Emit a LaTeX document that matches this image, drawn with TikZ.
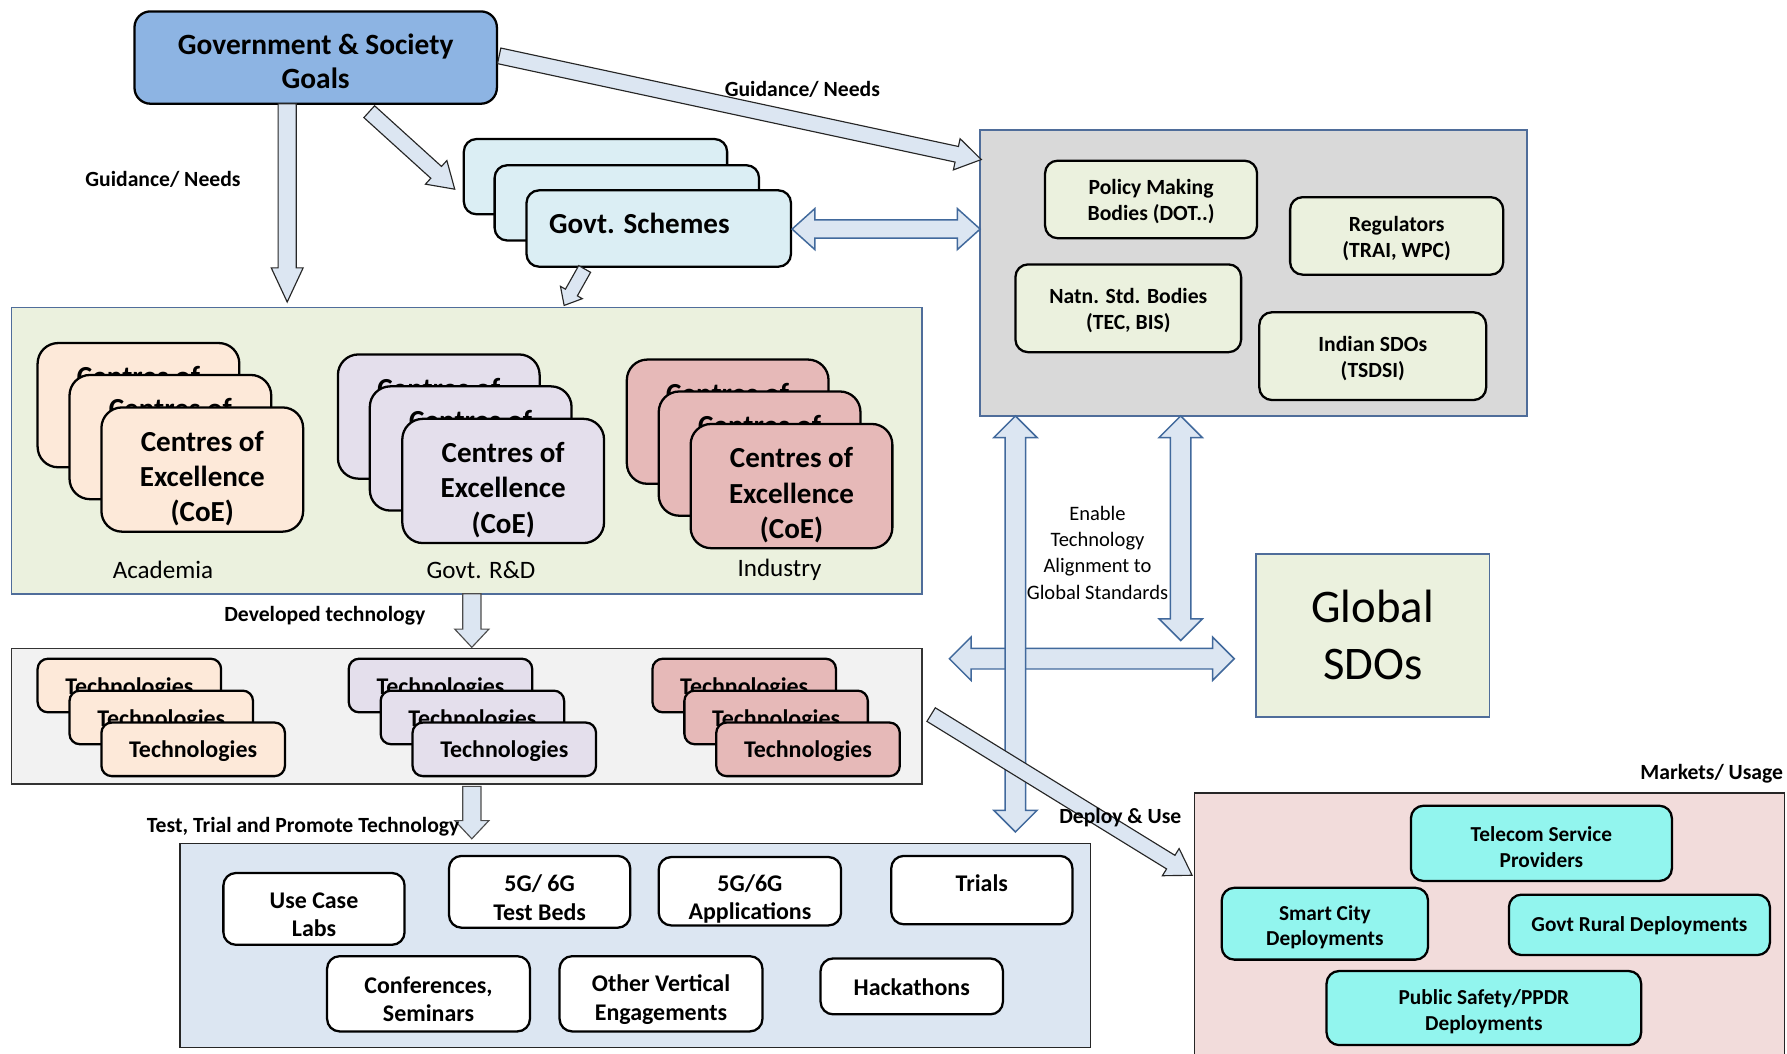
\documentclass[tikz,border=0pt]{standalone}
\usepackage{fontspec}
\setmainfont{Carlito}
\usetikzlibrary{calc}

\definecolor{govblue}{RGB}{141,180,227}
\definecolor{schemefill}{RGB}{219,238,244}
\definecolor{greenfill}{RGB}{235,241,222}
\definecolor{acadfill}{RGB}{253,233,217}
\definecolor{rdfill}{RGB}{228,223,236}
\definecolor{indfill}{RGB}{230,185,184}
\definecolor{greyfill}{RGB}{217,217,217}
\definecolor{techfill}{RGB}{242,242,242}
\definecolor{testfill}{RGB}{220,230,242}
\definecolor{marketfill}{RGB}{242,220,219}
\definecolor{aquafill}{RGB}{146,245,238}
\definecolor{arrowfill}{RGB}{220,230,242}
\definecolor{steel}{RGB}{79,109,154}
\definecolor{arrowblue}{RGB}{65,105,156}

% single-headed block arrow: style, from, to, shaft half width, head half width, head length
\newcommand{\blkarrow}[6]{%
  \path ($(#3)!#6!(#2)$) coordinate (ah);
  \draw[#1] ($(#2)!#4!90:(#3)$) -- ($(ah)!#4!90:(#3)$) -- ($(ah)!#5!90:(#3)$) -- (#3)
    -- ($(ah)!#5!-90:(#3)$) -- ($(ah)!#4!-90:(#3)$) -- ($(#2)!#4!-90:(#3)$) -- cycle;
}
% double-headed block arrow, same arguments
\newcommand{\dblarrow}[6]{%
  \path ($(#2)!#6!(#3)$) coordinate (ha) ($(#3)!#6!(#2)$) coordinate (hb);
  \draw[#1] (#2) -- ($(ha)!#5!90:(#3)$) -- ($(ha)!#4!90:(#3)$) -- ($(hb)!#4!90:(#3)$)
    -- ($(hb)!#5!90:(#3)$) -- (#3) -- ($(hb)!#5!-90:(#3)$) -- ($(hb)!#4!-90:(#3)$)
    -- ($(ha)!#4!-90:(#3)$) -- ($(ha)!#5!-90:(#3)$) -- cycle;
}

\tikzset{
  rbox/.style={draw=black, line width=2pt, rounded corners=11pt, inner sep=0pt},
  coebox/.style={rbox, rounded corners=18pt, minimum width=177pt, minimum height=109pt},
  techbox/.style={rbox, rounded corners=9pt, minimum width=161pt, minimum height=47pt},
  txt/.style={align=center, inner sep=0pt, font=\bfseries\fontsize{19}{23}\selectfont},
  bigtxt/.style={txt, font=\bfseries\fontsize{25.5}{31}\selectfont},
  techtxt/.style={txt, font=\bfseries\fontsize{21}{25}\selectfont},
  testtxt/.style={txt, font=\bfseries\fontsize{21}{25}\selectfont},
  mkttxt/.style={txt, font=\bfseries\fontsize{18.7}{22.5}\selectfont},
  region/.style={line width=1.3pt},
  lbl/.style={font=\bfseries\fontsize{19}{22}\selectfont, inner sep=0pt},
  plainlbl/.style={font=\fontsize{22}{26}\selectfont, inner sep=0pt},
  arrblack/.style={fill=arrowfill, draw=black!85, line width=1pt},
  arrblue/.style={fill=arrowfill, draw=arrowblue, line width=1.3pt},
}

\begin{document}
\begin{tikzpicture}[x=1pt,y=-1pt]
\useasboundingbox (0,0) rectangle (1568,924);

% ---------- regions ----------
\draw[region, draw=steel, fill=greenfill] (10,270) rectangle (809,521);
\draw[region, draw=black!80, fill=techfill] (10,569) rectangle (809,688);
\draw[region, draw=black!85, fill=testfill] (158,740) rectangle (957,919);
\draw[region, draw=steel, fill=greyfill] (860,114) rectangle (1340,365);
\draw[region, draw=black!85, fill=marketfill] (1048,696) rectangle (1566,940);
\node[region, draw=steel, fill=greenfill, minimum width=205pt, minimum height=143pt,
  align=center, font=\fontsize{41}{50}\selectfont, inner sep=0pt] (global) at (1204.5,557.5) {Global\\SDOs};

% ---------- goals and schemes ----------
\node[rbox, fill=govblue, rounded corners=14pt, minimum width=318pt, minimum height=81pt] (gov) at (277,50.5) {};
\node[txt, font=\bfseries\fontsize{25.8}{30}\selectfont] (gov-t) at ([yshift=-3pt]gov.center) {Government \& Society\\Goals};

\node[rbox, fill=schemefill, minimum width=231pt, minimum height=66pt] (sch1) at (522.5,155) {};
\node[rbox, fill=schemefill, minimum width=232pt, minimum height=66pt] (sch2) at (550,178) {};
\node[rbox, fill=schemefill, minimum width=232pt, minimum height=67pt] (sch3) at (578,200.5) {};
\node[bigtxt] (sch3-t) at (561,196) {Govt. Schemes};

% ---------- policy bodies ----------
\node[rbox, fill=greenfill, minimum width=186pt, minimum height=68pt] (policy) at (1010,175) {};
\node[txt] (policy-t) at ([yshift=-2pt]policy.center) {Policy Making\\Bodies (DOT..)};
\node[rbox, fill=greenfill, minimum width=187pt, minimum height=68pt] (regul) at (1225.5,207) {};
\node[txt] (regul-t) at ([yshift=-2pt]regul.center) {Regulators\\(TRAI, WPC)};
\node[rbox, fill=greenfill, minimum width=198pt, minimum height=77pt] (natn) at (990,270.5) {};
\node[txt] (natn-t) at ([yshift=-2pt]natn.center) {Natn. Std. Bodies\\(TEC, BIS)};
\node[rbox, fill=greenfill, minimum width=199pt, minimum height=77pt] (isdo) at (1204.5,312.5) {};
\node[txt] (isdo-t) at ([yshift=-2pt]isdo.center) {Indian SDOs\\(TSDSI)};

% ---------- centres of excellence ----------
\foreach \n/\x/\y in {a1/121.5/355.5, a2/149.5/383.5, a3/177.5/412}{
  \node[coebox, fill=acadfill] (\n) at (\x,\y) {};
  \node[bigtxt] (\n-t) at ([yshift=-8pt]\n.center) {Centres of\\Excellence\\(CoE)};
}
\foreach \n/\x/\y in {r1/385/365.5, r2/413/393.5, r3/441.5/422}{
  \node[coebox, fill=rdfill] (\n) at (\x,\y) {};
  \node[bigtxt] (\n-t) at ([yshift=-8pt]\n.center) {Centres of\\Excellence\\(CoE)};
}
\foreach \n/\x/\y in {i1/638.5/370, i2/666.5/398, i3/694.5/426.5}{
  \node[coebox, fill=indfill] (\n) at (\x,\y) {};
  \node[bigtxt] (\n-t) at ([yshift=-8pt]\n.center) {Centres of\\Excellence\\(CoE)};
}
\node[plainlbl] (acad) at (143,500) {Academia};
\node[plainlbl] (govrd) at (422,500) {Govt. R\&D};
\node[plainlbl] (indus) at (684,500) {Industry};

% ---------- technologies ----------
\foreach \n/\x/\y/\c in {ta1/113.5/601.5/acadfill, ta2/141.5/629.5/acadfill, ta3/169.5/657.5/acadfill,
                         tr1/386.5/601.5/rdfill, tr2/414.5/629.5/rdfill, tr3/442.5/657.5/rdfill,
                         ti1/653/601.5/indfill, ti2/681/629.5/indfill, ti3/709/657.5/indfill}{
  \node[techbox, fill=\c] (\n) at (\x,\y) {};
  \node[techtxt] (\n-t) at ([yshift=-2pt]\n.center) {Technologies};
}

% ---------- test, trial and promote ----------
\begin{scope}[every node/.append style={}]
\node[rbox, fill=white, minimum width=159pt, minimum height=63pt] (usecase) at (275.5,797.5) {};
\node[testtxt] (usecase-t) at ([yshift=-5pt]usecase.center) {Use Case\\Labs};
\node[rbox, fill=white, minimum width=159pt, minimum height=63pt] (testbed) at (473.5,782.5) {};
\node[testtxt] (testbed-t) at ([yshift=-5pt]testbed.center) {5G/ 6G\\Test Beds};
\node[rbox, fill=white, minimum width=160pt, minimum height=60pt] (apps) at (658,782) {};
\node[testtxt] (apps-t) at ([yshift=-7pt]apps.center) {5G/6G\\Applications};
\node[rbox, fill=white, minimum width=159pt, minimum height=60pt] (trials) at (861.5,781) {};
\node[testtxt] (trials-t) at ([yshift=6pt]trials.center) {Trials};
\node[rbox, fill=white, minimum width=178pt, minimum height=66pt] (conf) at (376,872) {};
\node[testtxt] (conf-t) at ([yshift=-5pt]conf.center) {Conferences,\\Seminars};
\node[rbox, fill=white, minimum width=178pt, minimum height=66pt] (other) at (580,872) {};
\node[testtxt] (other-t) at ([yshift=-5pt]other.center) {Other Vertical\\Engagements};
\node[rbox, fill=white, minimum width=160pt, minimum height=49pt] (hack) at (800,865.5) {};
\node[testtxt] (hack-t) at ([yshift=-1pt]hack.center) {Hackathons};
\end{scope}

% ---------- markets ----------
\node[rbox, fill=aquafill, minimum width=229pt, minimum height=66pt] (telecom) at (1352.5,740) {};
\node[mkttxt] (telecom-t) at ([yshift=-3pt]telecom.center) {Telecom Service\\Providers};
\node[rbox, fill=aquafill, minimum width=181pt, minimum height=63pt] (smart) at (1162.5,810.5) {};
\node[mkttxt] (smart-t) at ([yshift=-3pt]smart.center) {Smart City\\Deployments};
\node[rbox, fill=aquafill, minimum width=229pt, minimum height=53pt] (rural) at (1438.5,811.5) {};
\node[mkttxt] (rural-t) at ([yshift=-1pt]rural.center) {Govt Rural Deployments};
\node[rbox, fill=aquafill, minimum width=276pt, minimum height=65pt] (public) at (1302,884.5) {};
\node[mkttxt] (public-t) at ([yshift=-3pt]public.center) {Public Safety/PPDR\\Deployments};

% ---------- arrow end points ----------
\coordinate (govdown) at (252,91);
\coordinate (coetop) at (252,265);
\coordinate (govdiag) at (324,98);
\coordinate (schtip) at (399,166);
\coordinate (govright) at (438,49);
\coordinate (greytip) at (861,140);
\coordinate (schbot) at (513,236);
\coordinate (coetop2) at (495,268);
\coordinate (schright) at (695,201);
\coordinate (greyleft) at (860,201);
\coordinate (coebot) at (414,521);
\coordinate (techtop) at (414,568);
\coordinate (techbot) at (414,690);
\coordinate (testtop) at (414,736);
\coordinate (vAtop) at (891,365);
\coordinate (vAbot) at (891,730);
\coordinate (vBtop) at (1036,365);
\coordinate (vBbot) at (1036,562);
\coordinate (hleft) at (833,578);
\coordinate (hright) at (1083,578);
\coordinate (deptail) at (817,627);
\coordinate (deptip) at (1046,768);

% ---------- block arrows ----------
\blkarrow{arrblack}{govdown}{coetop}{8pt}{14pt}{30pt}
\blkarrow{arrblack}{govdiag}{schtip}{7pt}{14pt}{22pt}
\blkarrow{arrblack}{govright}{greytip}{7pt}{14pt}{22pt}
\blkarrow{arrblack}{schbot}{coetop2}{6pt}{11pt}{13pt}
\dblarrow{arrblue}{schright}{greyleft}{8pt}{18pt}{20pt}
\blkarrow{arrblack, draw=black!70}{coebot}{techtop}{8pt}{15pt}{16pt}
\blkarrow{arrblack, draw=black!70}{techbot}{testtop}{8pt}{15pt}{16pt}
\dblarrow{arrblue}{hleft}{hright}{9pt}{19pt}{19pt}
\dblarrow{arrblue}{vBtop}{vBbot}{9pt}{19pt}{19pt}
\dblarrow{arrblue}{vAtop}{vAbot}{9pt}{19pt}{19pt}
\blkarrow{arrblack}{deptail}{deptip}{7pt}{14pt}{22pt}

% ---------- connector labels ----------
\node[lbl] (lguid1) at (143,157) {Guidance/ Needs};
\node[lbl] (lguid2) at (704,78) {Guidance/ Needs};
\node[lbl] (ldev) at (285,540) {Developed technology};
\node[lbl] (ltest) at (266,725) {Test, Trial and Promote Technology};
\node[lbl] (ldeploy) at (983,717) {Deploy \& Use};
\node[lbl] (lmarket) at (1502,679) {Markets/ Usage};
\node[align=center, inner sep=0pt, font=\fontsize{18}{23}\selectfont] (lenable) at (963,485)
  {Enable\\Technology\\Alignment to\\Global Standards};
\end{tikzpicture}
\end{document}
